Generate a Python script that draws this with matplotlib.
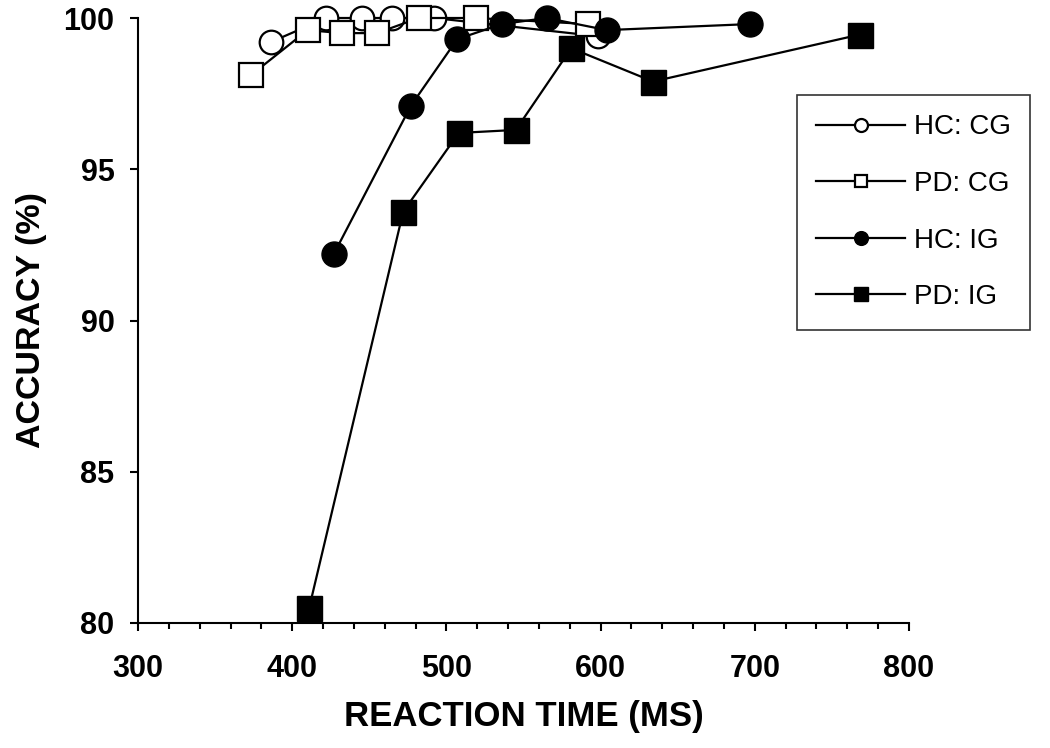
import matplotlib
matplotlib.use("Agg")
import matplotlib.pyplot as plt
from matplotlib.ticker import MultipleLocator

plt.rcParams['font.family'] = ['Liberation Sans', 'DejaVu Sans']

# reaction time (ms) / accuracy (%) per group and condition
hc_cg_rt = [386, 422, 445, 465, 492, 598]
hc_cg_acc = [99.2, 100.0, 100.0, 100.0, 100.0, 99.4]

pd_cg_rt = [373, 410, 432, 455, 482, 519, 592]
pd_cg_acc = [98.1, 99.6, 99.5, 99.5, 100.0, 100.0, 99.8]

hc_ig_rt = [427, 477, 507, 536, 565, 604, 697]
hc_ig_acc = [92.2, 97.1, 99.3, 99.8, 100.0, 99.6, 99.8]

pd_ig_rt = [411, 472, 508, 545, 581, 634, 768]
pd_ig_acc = [80.5, 93.6, 96.2, 96.3, 99.0, 97.9, 99.45]

labels = ['HC: CG', 'PD: CG', 'HC: IG', 'PD: IG']

fig = plt.figure(figsize=(10.5, 7.48), dpi=100)
ax = fig.add_axes([138/1050, 1-623/748, (909-138)/1050, (623-18)/748])

ax.plot(hc_cg_rt, hc_cg_acc, '-o', color='black', lw=1.6, ms=17,
        mfc='white', mec='black', mew=1.6, label=labels[0], clip_on=False, zorder=3)
ax.plot(pd_cg_rt, pd_cg_acc, '-s', color='black', lw=1.6, ms=17,
        mfc='white', mec='black', mew=1.6, label=labels[1], clip_on=False, zorder=3)
ax.plot(hc_ig_rt, hc_ig_acc, '-o', color='black', lw=1.6, ms=18,
        mfc='black', mec='black', label=labels[2], clip_on=False, zorder=4)
ax.plot(pd_ig_rt, pd_ig_acc, '-s', color='black', lw=1.6, ms=18,
        mfc='black', mec='black', label=labels[3], clip_on=False, zorder=4)

ax.set_xlim(300, 800)
ax.set_ylim(80, 100)
ax.xaxis.set_major_locator(MultipleLocator(100))
ax.xaxis.set_minor_locator(MultipleLocator(20))
ax.yaxis.set_major_locator(MultipleLocator(5))
ax.yaxis.set_minor_locator(MultipleLocator(1))

for s in ['top', 'right']:
    ax.spines[s].set_visible(False)
for s in ['left', 'bottom']:
    ax.spines[s].set_linewidth(1.5)

ax.tick_params(axis='x', which='major', direction='out', length=6, width=1.5, pad=16, labelsize=22)
ax.tick_params(axis='x', which='minor', direction='out', length=4, width=1.5)
ax.tick_params(axis='y', which='major', direction='out', length=6, width=1.5, pad=11, labelsize=22)
ax.tick_params(axis='y', which='minor', direction='out', length=0, width=1.5)
for lab in ax.get_xticklabels() + ax.get_yticklabels():
    lab.set_fontweight('bold')

ax.set_xlabel('REACTION TIME (MS)', fontsize=25, fontweight='bold', labelpad=12)
ax.set_ylabel('ACCURACY (%)', fontsize=24.5, fontweight='bold', labelpad=12)

leg = ax.legend(loc='upper left', bbox_to_anchor=(797/1050, 1-95/748),
                bbox_transform=fig.transFigure, fontsize=20, markerscale=0.55,
                handlelength=3.2, handletextpad=0.3, labelspacing=1.1,
                borderpad=0.7, borderaxespad=0, frameon=True, fancybox=False)
leg.get_frame().set_edgecolor('black')
leg.get_frame().set_linewidth(1.2)

fig.savefig('out.png', dpi=100)
